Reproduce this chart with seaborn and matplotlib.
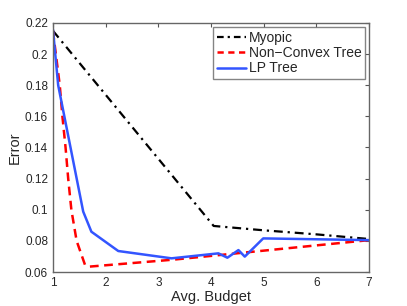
import pandas as pd
import matplotlib
matplotlib.use('Agg')
import matplotlib.pyplot as plt
import seaborn as sns

# data
myopic_x = [1, 4.05, 5, 6, 7]
myopic_y = [0.215, 0.0896, 0.0868, 0.0842, 0.0812]

nonconvex_x = [1, 1.13, 1.18, 1.24, 1.29, 1.35, 1.45, 1.61, 1.7, 3.3, 7]
nonconvex_y = [0.215, 0.18, 0.16, 0.14, 0.12, 0.1, 0.08, 0.0645, 0.0635, 0.068, 0.0805]

lp_x = [1, 1.1, 1.575, 1.73, 2.24, 3.25, 4.14, 4.31, 4.52, 4.64, 4.99, 7]
lp_y = [0.216, 0.18, 0.0988, 0.0859, 0.0735, 0.0688, 0.072, 0.0692, 0.0741, 0.0699, 0.0816, 0.0805]

y_ticks = [0.06, 0.08, 0.1, 0.12, 0.14, 0.16, 0.18, 0.2, 0.22]
y_tick_labels = ['0.06', '0.08', '0.1', '0.12', '0.14', '0.16', '0.18', '0.2', '0.22']
x_ticks = [1, 2, 3, 4, 5, 6, 7]

sns.set_style("white")
plt.rcParams['font.family'] = ['Liberation Sans', 'DejaVu Sans']

fig = plt.figure(figsize=(4.07, 3.06), dpi=100)
ax = fig.add_axes([0.130, 0.111, 0.777, 0.814])

sns.lineplot(x=myopic_x, y=myopic_y, ax=ax, color='black', linestyle='-.',
             linewidth=1.6, label='Myopic', sort=False)
sns.lineplot(x=nonconvex_x, y=nonconvex_y, ax=ax, color='#ff0000', linestyle='--',
             linewidth=1.8, label='Non\u2212Convex Tree', sort=False)
sns.lineplot(x=lp_x, y=lp_y, ax=ax, color='#3355ff', linestyle='-',
             linewidth=1.8, label='LP Tree', sort=False)
ax.lines[0].set_dashes([4, 2.2, 1, 2.2])
ax.lines[1].set_dashes([3.5, 2.2])

ax.set_xlim(1, 7)
ax.set_ylim(0.06, 0.22)
ax.set_xticks(x_ticks)
ax.set_xticklabels([str(t) for t in x_ticks])
ax.set_yticks(y_ticks)
ax.set_yticklabels(y_tick_labels)
ax.tick_params(direction='in', top=True, right=True, length=3, labelsize=8.5,
               color='#555555', width=0.8)
for s in ax.spines.values():
    s.set_color('#666666')
    s.set_linewidth(1.0)

ax.set_xlabel('Avg. Budget', fontsize=10.5, labelpad=1)
ax.set_ylabel('Error', fontsize=10.5, labelpad=2)

leg = ax.legend(loc='upper right', fontsize=10, frameon=True, fancybox=False,
                handlelength=2.1, handletextpad=0.2, borderpad=0.25,
                labelspacing=0.1, borderaxespad=0.3)
leg.get_frame().set_edgecolor('#666666')
leg.get_frame().set_linewidth(1.0)
leg.get_lines()[0].set_dashes([3, 1.8, 1, 1.8])
leg.get_lines()[1].set_dashes([2.5, 1.8])

fig.savefig('out.png', dpi=100)
